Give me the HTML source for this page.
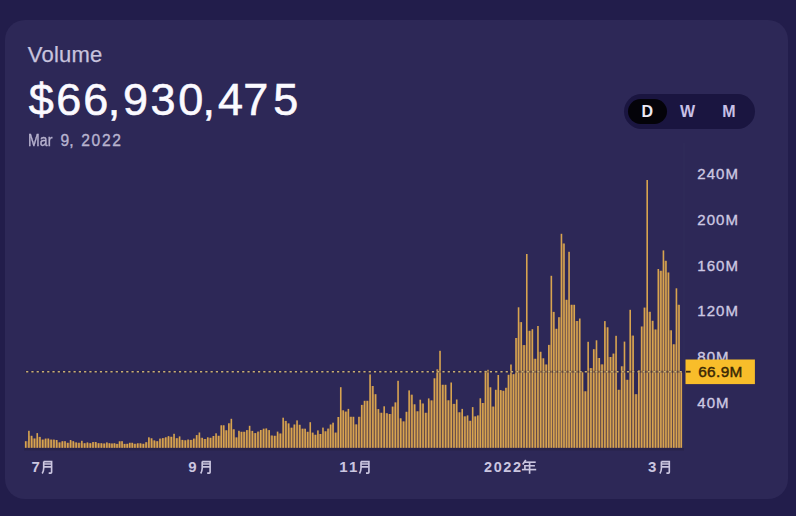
<!DOCTYPE html>
<html><head><meta charset="utf-8"><style>
*{margin:0;padding:0;box-sizing:border-box}
html,body{width:796px;height:516px;overflow:hidden;background:#221d4b;font-family:"Liberation Sans",sans-serif}
.card{position:absolute;left:5px;top:20px;width:783px;height:479px;border-radius:20px;background:#2d2857}
.t{position:absolute;white-space:nowrap;line-height:1}
.bg{top:76.6px;font-size:45px;color:#fbfaff;-webkit-text-stroke:0.6px #fbfaff}
#vol{left:27.8px;top:43.6px;font-size:22px;color:#c8c3dd;letter-spacing:0.2px;-webkit-text-stroke:0.25px #c8c3dd}
.dt{top:132.6px;font-size:15.6px;color:#b8b3cf;-webkit-text-stroke:0.35px #b8b3cf}
.pill{position:absolute;left:624px;top:93.5px;width:131px;height:35px;border-radius:18px;background:#1a1540}
.dp{position:absolute;left:628px;top:98.5px;width:39px;height:25px;border-radius:13px;background:#040309}
.tg{position:absolute;top:104.3px;font-size:16px;font-weight:bold;line-height:1}
.yl{position:absolute;left:697.2px;font-size:15px;color:#cdc8e2;line-height:1;letter-spacing:1.1px;-webkit-text-stroke:0.35px #cdc8e2}
svg{position:absolute;left:0;top:0}
</style></head><body>
<div class="card"></div>
<div class="t" id="vol">Volume</div>
<div class="t bg" style="left:28.8px">$</div>
<div class="t bg" style="left:56.2px">6</div>
<div class="t bg" style="left:83.3px">6</div>
<div class="t bg" style="left:107.7px">,</div>
<div class="t bg" style="left:122.9px">9</div>
<div class="t bg" style="left:150.5px">3</div>
<div class="t bg" style="left:178.3px">0</div>
<div class="t bg" style="left:202.5px">,</div>
<div class="t bg" style="left:217.9px">4</div>
<div class="t bg" style="left:243.3px">7</div>
<div class="t bg" style="left:273.2px">5</div>
<div class="t dt" style="left:28.2px;transform:scaleX(0.9);transform-origin:0 0;letter-spacing:0.2px">Mar</div>
<div class="t dt" style="left:60.5px">9,</div>
<div class="t dt" style="left:81.2px;letter-spacing:1.7px">2022</div>
<div class="pill"></div>
<div class="dp"></div>
<div class="tg" style="left:641.5px;color:#ece9f5">D</div>
<div class="tg" style="left:680px;color:#c8c0e6">W</div>
<div class="tg" style="left:722.3px;color:#c8c0e6">M</div>
<div class="yl" style="top:166.0px">240M</div>
<div class="yl" style="top:211.8px">200M</div>
<div class="yl" style="top:257.6px">160M</div>
<div class="yl" style="top:303.4px">120M</div>
<div class="yl" style="top:349.2px">80M</div>
<div class="yl" style="top:395.0px">40M</div>
<svg width="796" height="516" viewBox="0 0 796 516">
<line x1="684" y1="143" x2="684" y2="448" stroke="#312c5b" stroke-width="1"/>
<defs><filter id="bl" x="-1%" y="-1%" width="102%" height="102%"><feGaussianBlur stdDeviation="0.35 0.2"/></filter></defs>
<g fill="#644a4a">
<rect x="25.70" y="441.20" width="3.20" height="6.60"/>
<rect x="28.90" y="435.80" width="2.80" height="12.00"/>
<rect x="31.70" y="438.50" width="2.77" height="9.30"/>
<rect x="34.47" y="438.50" width="2.77" height="9.30"/>
<rect x="37.24" y="436.90" width="2.74" height="10.90"/>
<rect x="39.97" y="439.60" width="2.80" height="8.20"/>
<rect x="42.77" y="439.60" width="2.78" height="8.20"/>
<rect x="45.55" y="438.60" width="2.78" height="9.20"/>
<rect x="48.34" y="439.60" width="2.78" height="8.20"/>
<rect x="51.12" y="439.60" width="2.85" height="8.20"/>
<rect x="53.96" y="440.00" width="2.78" height="7.80"/>
<rect x="56.75" y="442.40" width="2.78" height="5.40"/>
<rect x="59.53" y="442.40" width="2.77" height="5.40"/>
<rect x="62.30" y="441.20" width="2.76" height="6.60"/>
<rect x="65.06" y="442.80" width="2.75" height="5.00"/>
<rect x="67.82" y="442.80" width="2.77" height="5.00"/>
<rect x="70.59" y="441.20" width="2.76" height="6.60"/>
<rect x="73.35" y="442.40" width="2.78" height="5.40"/>
<rect x="76.14" y="442.80" width="2.82" height="5.00"/>
<rect x="78.95" y="442.80" width="2.89" height="5.00"/>
<rect x="81.85" y="443.20" width="2.79" height="4.60"/>
<rect x="84.64" y="443.20" width="2.80" height="4.60"/>
<rect x="87.44" y="443.20" width="2.80" height="4.60"/>
<rect x="90.24" y="443.20" width="2.78" height="4.60"/>
<rect x="93.02" y="442.00" width="2.80" height="5.80"/>
<rect x="95.82" y="443.20" width="2.78" height="4.60"/>
<rect x="98.60" y="443.20" width="2.79" height="4.60"/>
<rect x="101.39" y="443.50" width="2.77" height="4.30"/>
<rect x="104.16" y="443.50" width="2.71" height="4.30"/>
<rect x="106.87" y="443.20" width="2.56" height="4.60"/>
<rect x="109.44" y="443.50" width="2.53" height="4.30"/>
<rect x="111.96" y="443.50" width="2.53" height="4.30"/>
<rect x="114.49" y="443.90" width="2.53" height="3.90"/>
<rect x="117.02" y="443.90" width="2.53" height="3.90"/>
<rect x="119.55" y="441.30" width="2.54" height="6.50"/>
<rect x="122.08" y="443.90" width="2.53" height="3.90"/>
<rect x="124.61" y="443.90" width="2.57" height="3.90"/>
<rect x="127.18" y="443.80" width="2.55" height="4.00"/>
<rect x="129.73" y="442.80" width="2.55" height="5.00"/>
<rect x="132.28" y="443.80" width="2.64" height="4.00"/>
<rect x="134.92" y="443.80" width="2.82" height="4.00"/>
<rect x="137.74" y="443.30" width="2.78" height="4.50"/>
<rect x="140.52" y="443.80" width="2.78" height="4.00"/>
<rect x="143.30" y="443.80" width="2.78" height="4.00"/>
<rect x="146.08" y="442.20" width="2.79" height="5.60"/>
<rect x="148.87" y="438.30" width="2.77" height="9.50"/>
<rect x="151.65" y="440.40" width="2.76" height="7.40"/>
<rect x="154.41" y="441.20" width="2.76" height="6.60"/>
<rect x="157.17" y="441.20" width="2.79" height="6.60"/>
<rect x="159.96" y="438.60" width="2.86" height="9.20"/>
<rect x="162.83" y="438.10" width="2.85" height="9.70"/>
<rect x="165.68" y="437.30" width="2.80" height="10.50"/>
<rect x="168.48" y="436.80" width="2.79" height="11.00"/>
<rect x="171.27" y="436.80" width="2.78" height="11.00"/>
<rect x="174.05" y="438.20" width="2.80" height="9.60"/>
<rect x="176.85" y="438.20" width="2.76" height="9.60"/>
<rect x="179.62" y="439.90" width="2.78" height="7.90"/>
<rect x="182.40" y="440.30" width="2.83" height="7.50"/>
<rect x="185.23" y="440.30" width="2.85" height="7.50"/>
<rect x="188.08" y="439.90" width="2.87" height="7.90"/>
<rect x="190.95" y="439.90" width="2.84" height="7.90"/>
<rect x="193.79" y="438.60" width="2.83" height="9.20"/>
<rect x="196.62" y="435.10" width="2.78" height="12.70"/>
<rect x="199.40" y="437.80" width="2.79" height="10.00"/>
<rect x="202.19" y="439.00" width="2.79" height="8.80"/>
<rect x="204.98" y="439.00" width="2.75" height="8.80"/>
<rect x="207.74" y="437.80" width="2.78" height="10.00"/>
<rect x="210.52" y="437.80" width="2.81" height="10.00"/>
<rect x="213.33" y="436.00" width="2.75" height="11.80"/>
<rect x="216.07" y="435.80" width="2.61" height="12.00"/>
<rect x="218.68" y="435.80" width="2.56" height="12.00"/>
<rect x="221.25" y="425.30" width="2.54" height="22.50"/>
<rect x="223.78" y="430.30" width="2.51" height="17.50"/>
<rect x="226.29" y="430.30" width="2.54" height="17.50"/>
<rect x="228.83" y="423.30" width="2.53" height="24.50"/>
<rect x="231.35" y="429.30" width="2.54" height="18.50"/>
<rect x="233.89" y="437.40" width="2.55" height="10.40"/>
<rect x="236.44" y="437.40" width="2.52" height="10.40"/>
<rect x="238.95" y="431.80" width="2.52" height="16.00"/>
<rect x="241.47" y="431.80" width="2.63" height="16.00"/>
<rect x="244.10" y="431.80" width="2.75" height="16.00"/>
<rect x="246.85" y="430.10" width="2.77" height="17.70"/>
<rect x="249.62" y="430.90" width="2.78" height="16.90"/>
<rect x="252.40" y="433.10" width="2.79" height="14.70"/>
<rect x="255.19" y="433.10" width="2.78" height="14.70"/>
<rect x="257.97" y="431.60" width="2.79" height="16.20"/>
<rect x="260.76" y="430.00" width="2.79" height="17.80"/>
<rect x="263.55" y="428.70" width="2.80" height="19.10"/>
<rect x="266.35" y="430.10" width="2.82" height="17.70"/>
<rect x="269.17" y="435.50" width="2.80" height="12.30"/>
<rect x="271.97" y="435.80" width="2.83" height="12.00"/>
<rect x="274.80" y="435.80" width="2.79" height="12.00"/>
<rect x="277.59" y="433.50" width="2.78" height="14.30"/>
<rect x="280.37" y="433.50" width="2.77" height="14.30"/>
<rect x="283.15" y="420.90" width="2.77" height="26.90"/>
<rect x="285.92" y="423.40" width="2.80" height="24.40"/>
<rect x="288.72" y="427.70" width="2.80" height="20.10"/>
<rect x="291.52" y="427.70" width="2.76" height="20.10"/>
<rect x="294.28" y="424.50" width="2.78" height="23.30"/>
<rect x="297.06" y="424.80" width="2.79" height="23.00"/>
<rect x="299.85" y="428.70" width="2.73" height="19.10"/>
<rect x="302.59" y="428.70" width="2.57" height="19.10"/>
<rect x="305.16" y="431.80" width="2.55" height="16.00"/>
<rect x="307.70" y="431.80" width="2.55" height="16.00"/>
<rect x="310.25" y="432.60" width="2.56" height="15.20"/>
<rect x="312.81" y="434.76" width="2.56" height="13.04"/>
<rect x="315.38" y="434.76" width="2.52" height="13.04"/>
<rect x="317.90" y="434.00" width="2.52" height="13.80"/>
<rect x="320.41" y="434.00" width="2.55" height="13.80"/>
<rect x="322.97" y="431.30" width="2.54" height="16.50"/>
<rect x="325.50" y="431.30" width="2.51" height="16.50"/>
<rect x="328.01" y="428.60" width="2.52" height="19.20"/>
<rect x="330.54" y="424.50" width="2.54" height="23.30"/>
<rect x="333.07" y="432.60" width="2.56" height="15.20"/>
<rect x="335.64" y="432.60" width="2.57" height="15.20"/>
<rect x="338.21" y="417.00" width="2.55" height="30.80"/>
<rect x="340.76" y="410.30" width="2.52" height="37.50"/>
<rect x="343.28" y="411.60" width="2.55" height="36.20"/>
<rect x="345.84" y="411.60" width="2.55" height="36.20"/>
<rect x="348.38" y="416.80" width="2.55" height="31.00"/>
<rect x="350.94" y="416.80" width="2.56" height="31.00"/>
<rect x="353.50" y="424.40" width="2.69" height="23.40"/>
<rect x="356.19" y="424.40" width="2.75" height="23.40"/>
<rect x="358.94" y="416.80" width="2.78" height="31.00"/>
<rect x="361.72" y="404.90" width="2.79" height="42.90"/>
<rect x="364.51" y="400.80" width="2.76" height="47.00"/>
<rect x="367.27" y="400.80" width="2.80" height="47.00"/>
<rect x="370.07" y="386.00" width="2.80" height="61.80"/>
<rect x="372.87" y="394.20" width="2.78" height="53.60"/>
<rect x="375.65" y="409.10" width="2.80" height="38.70"/>
<rect x="378.45" y="412.80" width="2.85" height="35.00"/>
<rect x="381.30" y="412.80" width="2.88" height="35.00"/>
<rect x="384.18" y="413.20" width="2.78" height="34.60"/>
<rect x="386.96" y="414.00" width="2.78" height="33.80"/>
<rect x="389.75" y="414.00" width="2.78" height="33.80"/>
<rect x="392.53" y="406.60" width="2.77" height="41.20"/>
<rect x="395.30" y="402.40" width="2.76" height="45.40"/>
<rect x="398.06" y="418.30" width="2.74" height="29.50"/>
<rect x="400.80" y="421.40" width="2.76" height="26.40"/>
<rect x="403.56" y="421.40" width="2.78" height="26.40"/>
<rect x="406.35" y="411.80" width="2.78" height="36.00"/>
<rect x="409.13" y="394.70" width="2.79" height="53.10"/>
<rect x="411.92" y="404.30" width="2.78" height="43.50"/>
<rect x="414.70" y="411.30" width="2.79" height="36.50"/>
<rect x="417.49" y="411.30" width="2.77" height="36.50"/>
<rect x="420.26" y="403.50" width="2.78" height="44.30"/>
<rect x="423.05" y="412.80" width="2.82" height="35.00"/>
<rect x="425.86" y="412.80" width="2.85" height="35.00"/>
<rect x="428.71" y="400.40" width="2.82" height="47.40"/>
<rect x="431.53" y="400.40" width="2.83" height="47.40"/>
<rect x="434.35" y="378.30" width="2.79" height="69.50"/>
<rect x="437.15" y="369.40" width="2.88" height="78.40"/>
<rect x="440.03" y="384.80" width="2.82" height="63.00"/>
<rect x="442.85" y="384.80" width="2.79" height="63.00"/>
<rect x="445.64" y="400.30" width="2.78" height="47.50"/>
<rect x="448.42" y="400.30" width="2.78" height="47.50"/>
<rect x="451.20" y="403.90" width="2.79" height="43.90"/>
<rect x="453.99" y="403.90" width="2.74" height="43.90"/>
<rect x="456.73" y="412.30" width="2.72" height="35.50"/>
<rect x="459.45" y="412.30" width="2.76" height="35.50"/>
<rect x="462.21" y="416.40" width="2.70" height="31.40"/>
<rect x="464.91" y="416.40" width="2.66" height="31.40"/>
<rect x="467.57" y="420.80" width="2.56" height="27.00"/>
<rect x="470.14" y="420.80" width="2.55" height="27.00"/>
<rect x="472.68" y="416.40" width="2.54" height="31.40"/>
<rect x="475.22" y="416.40" width="2.55" height="31.40"/>
<rect x="477.76" y="415.44" width="2.55" height="32.36"/>
<rect x="480.32" y="403.00" width="2.54" height="44.80"/>
<rect x="482.85" y="403.00" width="2.56" height="44.80"/>
<rect x="485.42" y="370.80" width="2.58" height="77.00"/>
<rect x="488.00" y="387.30" width="2.55" height="60.50"/>
<rect x="490.55" y="406.60" width="2.59" height="41.20"/>
<rect x="493.14" y="406.60" width="2.59" height="41.20"/>
<rect x="495.73" y="389.80" width="2.55" height="58.00"/>
<rect x="498.27" y="390.10" width="2.55" height="57.70"/>
<rect x="500.82" y="390.80" width="2.55" height="57.00"/>
<rect x="503.36" y="390.80" width="2.55" height="57.00"/>
<rect x="505.91" y="387.80" width="2.52" height="60.00"/>
<rect x="508.43" y="374.80" width="2.55" height="73.00"/>
<rect x="510.98" y="374.20" width="2.53" height="73.60"/>
<rect x="513.51" y="374.20" width="2.50" height="73.60"/>
<rect x="516.01" y="338.00" width="2.56" height="109.80"/>
<rect x="518.57" y="322.10" width="2.69" height="125.70"/>
<rect x="521.26" y="345.10" width="2.76" height="102.70"/>
<rect x="524.03" y="345.10" width="2.75" height="102.70"/>
<rect x="526.78" y="330.80" width="2.81" height="117.00"/>
<rect x="529.59" y="330.80" width="2.79" height="117.00"/>
<rect x="532.38" y="358.80" width="2.77" height="89.00"/>
<rect x="535.15" y="358.80" width="2.79" height="89.00"/>
<rect x="537.95" y="351.80" width="2.77" height="96.00"/>
<rect x="540.72" y="358.30" width="2.74" height="89.50"/>
<rect x="543.45" y="364.50" width="2.73" height="83.30"/>
<rect x="546.18" y="364.50" width="2.64" height="83.30"/>
<rect x="548.82" y="344.90" width="2.52" height="102.90"/>
<rect x="551.34" y="311.90" width="2.52" height="135.90"/>
<rect x="553.85" y="328.80" width="2.55" height="119.00"/>
<rect x="556.41" y="328.80" width="2.51" height="119.00"/>
<rect x="558.92" y="317.20" width="2.53" height="130.60"/>
<rect x="561.45" y="243.50" width="2.55" height="204.30"/>
<rect x="563.99" y="299.80" width="2.55" height="148.00"/>
<rect x="566.54" y="299.80" width="2.54" height="148.00"/>
<rect x="569.07" y="304.80" width="2.59" height="143.00"/>
<rect x="571.66" y="304.80" width="2.60" height="143.00"/>
<rect x="574.26" y="321.00" width="2.75" height="126.80"/>
<rect x="577.01" y="321.00" width="2.76" height="126.80"/>
<rect x="579.77" y="371.80" width="2.75" height="76.00"/>
<rect x="582.53" y="391.30" width="2.81" height="56.50"/>
<rect x="585.34" y="391.30" width="2.81" height="56.50"/>
<rect x="588.15" y="368.10" width="2.77" height="79.70"/>
<rect x="590.92" y="368.10" width="2.80" height="79.70"/>
<rect x="593.72" y="349.20" width="2.78" height="98.60"/>
<rect x="596.50" y="358.00" width="2.77" height="89.80"/>
<rect x="599.27" y="364.40" width="2.77" height="83.40"/>
<rect x="602.05" y="364.40" width="2.83" height="83.40"/>
<rect x="604.87" y="327.30" width="2.82" height="120.50"/>
<rect x="607.69" y="357.00" width="2.81" height="90.80"/>
<rect x="610.50" y="357.00" width="2.82" height="90.80"/>
<rect x="613.32" y="353.60" width="2.76" height="94.20"/>
<rect x="616.08" y="389.80" width="2.75" height="58.00"/>
<rect x="618.84" y="389.80" width="2.84" height="58.00"/>
<rect x="621.67" y="366.30" width="2.82" height="81.50"/>
<rect x="624.49" y="379.80" width="2.80" height="68.00"/>
<rect x="627.29" y="379.80" width="2.91" height="68.00"/>
<rect x="630.20" y="335.60" width="2.92" height="112.20"/>
<rect x="633.12" y="394.20" width="2.92" height="53.60"/>
<rect x="636.04" y="394.20" width="2.80" height="53.60"/>
<rect x="638.84" y="370.30" width="2.79" height="77.50"/>
<rect x="641.63" y="326.50" width="2.78" height="121.30"/>
<rect x="644.41" y="307.60" width="2.79" height="140.20"/>
<rect x="647.20" y="311.80" width="2.81" height="136.00"/>
<rect x="650.01" y="320.80" width="2.76" height="127.00"/>
<rect x="652.77" y="329.50" width="2.73" height="118.30"/>
<rect x="655.50" y="329.50" width="2.80" height="118.30"/>
<rect x="658.30" y="270.80" width="2.59" height="177.00"/>
<rect x="660.89" y="270.80" width="2.54" height="177.00"/>
<rect x="663.43" y="260.80" width="2.52" height="187.00"/>
<rect x="665.95" y="272.50" width="2.57" height="175.30"/>
<rect x="668.52" y="330.30" width="2.65" height="117.50"/>
<rect x="671.16" y="344.30" width="2.63" height="103.50"/>
<rect x="673.80" y="344.30" width="2.63" height="103.50"/>
<rect x="676.43" y="304.80" width="2.61" height="143.00"/>
<rect x="679.03" y="371.50" width="2.27" height="76.30"/>
</g>
<g fill="#d8a450" filter="url(#bl)">
<rect x="24.90" y="441.20" width="1.6" height="6.60"/>
<rect x="28.10" y="430.80" width="1.6" height="17.00"/>
<rect x="30.90" y="435.80" width="1.6" height="12.00"/>
<rect x="33.67" y="438.50" width="1.6" height="9.30"/>
<rect x="36.44" y="433.10" width="1.6" height="14.70"/>
<rect x="39.17" y="436.90" width="1.6" height="10.90"/>
<rect x="41.97" y="439.60" width="1.6" height="8.20"/>
<rect x="44.75" y="438.60" width="1.6" height="9.20"/>
<rect x="47.54" y="438.50" width="1.6" height="9.30"/>
<rect x="50.32" y="439.60" width="1.6" height="8.20"/>
<rect x="53.16" y="439.60" width="1.6" height="8.20"/>
<rect x="55.95" y="440.00" width="1.6" height="7.80"/>
<rect x="58.73" y="442.40" width="1.6" height="5.40"/>
<rect x="61.50" y="441.20" width="1.6" height="6.60"/>
<rect x="64.26" y="441.20" width="1.6" height="6.60"/>
<rect x="67.02" y="442.80" width="1.6" height="5.00"/>
<rect x="69.79" y="440.00" width="1.6" height="7.80"/>
<rect x="72.55" y="441.20" width="1.6" height="6.60"/>
<rect x="75.34" y="442.40" width="1.6" height="5.40"/>
<rect x="78.15" y="442.80" width="1.6" height="5.00"/>
<rect x="81.05" y="440.80" width="1.6" height="7.00"/>
<rect x="83.84" y="443.20" width="1.6" height="4.60"/>
<rect x="86.64" y="442.40" width="1.6" height="5.40"/>
<rect x="89.44" y="443.20" width="1.6" height="4.60"/>
<rect x="92.22" y="442.00" width="1.6" height="5.80"/>
<rect x="95.02" y="442.00" width="1.6" height="5.80"/>
<rect x="97.80" y="443.20" width="1.6" height="4.60"/>
<rect x="100.59" y="443.20" width="1.6" height="4.60"/>
<rect x="103.36" y="443.50" width="1.6" height="4.30"/>
<rect x="106.07" y="442.40" width="1.6" height="5.40"/>
<rect x="108.64" y="443.20" width="1.6" height="4.60"/>
<rect x="111.16" y="443.50" width="1.6" height="4.30"/>
<rect x="113.69" y="443.20" width="1.6" height="4.60"/>
<rect x="116.22" y="443.90" width="1.6" height="3.90"/>
<rect x="118.75" y="441.30" width="1.6" height="6.50"/>
<rect x="121.28" y="441.20" width="1.6" height="6.60"/>
<rect x="123.81" y="443.90" width="1.6" height="3.90"/>
<rect x="126.38" y="443.80" width="1.6" height="4.00"/>
<rect x="128.93" y="442.80" width="1.6" height="5.00"/>
<rect x="131.48" y="442.80" width="1.6" height="5.00"/>
<rect x="134.12" y="443.80" width="1.6" height="4.00"/>
<rect x="136.94" y="443.30" width="1.6" height="4.50"/>
<rect x="139.72" y="443.30" width="1.6" height="4.50"/>
<rect x="142.50" y="443.80" width="1.6" height="4.00"/>
<rect x="145.28" y="442.20" width="1.6" height="5.60"/>
<rect x="148.07" y="437.30" width="1.6" height="10.50"/>
<rect x="150.85" y="438.30" width="1.6" height="9.50"/>
<rect x="153.61" y="440.40" width="1.6" height="7.40"/>
<rect x="156.37" y="441.20" width="1.6" height="6.60"/>
<rect x="159.16" y="438.60" width="1.6" height="9.20"/>
<rect x="162.03" y="438.10" width="1.6" height="9.70"/>
<rect x="164.88" y="437.30" width="1.6" height="10.50"/>
<rect x="167.68" y="436.10" width="1.6" height="11.70"/>
<rect x="170.47" y="436.80" width="1.6" height="11.00"/>
<rect x="173.25" y="433.80" width="1.6" height="14.00"/>
<rect x="176.05" y="438.20" width="1.6" height="9.60"/>
<rect x="178.82" y="436.40" width="1.6" height="11.40"/>
<rect x="181.60" y="439.90" width="1.6" height="7.90"/>
<rect x="184.43" y="440.30" width="1.6" height="7.50"/>
<rect x="187.28" y="439.50" width="1.6" height="8.30"/>
<rect x="190.15" y="439.90" width="1.6" height="7.90"/>
<rect x="192.99" y="438.60" width="1.6" height="9.20"/>
<rect x="195.82" y="435.10" width="1.6" height="12.70"/>
<rect x="198.60" y="432.50" width="1.6" height="15.30"/>
<rect x="201.39" y="437.80" width="1.6" height="10.00"/>
<rect x="204.18" y="439.00" width="1.6" height="8.80"/>
<rect x="206.94" y="437.30" width="1.6" height="10.50"/>
<rect x="209.72" y="437.80" width="1.6" height="10.00"/>
<rect x="212.53" y="436.00" width="1.6" height="11.80"/>
<rect x="215.27" y="433.30" width="1.6" height="14.50"/>
<rect x="217.88" y="435.80" width="1.6" height="12.00"/>
<rect x="220.45" y="425.30" width="1.6" height="22.50"/>
<rect x="222.98" y="425.30" width="1.6" height="22.50"/>
<rect x="225.49" y="430.30" width="1.6" height="17.50"/>
<rect x="228.03" y="423.30" width="1.6" height="24.50"/>
<rect x="230.55" y="418.80" width="1.6" height="29.00"/>
<rect x="233.09" y="429.30" width="1.6" height="18.50"/>
<rect x="235.64" y="437.40" width="1.6" height="10.40"/>
<rect x="238.15" y="430.80" width="1.6" height="17.00"/>
<rect x="240.67" y="431.80" width="1.6" height="16.00"/>
<rect x="243.30" y="431.80" width="1.6" height="16.00"/>
<rect x="246.05" y="430.10" width="1.6" height="17.70"/>
<rect x="248.82" y="425.80" width="1.6" height="22.00"/>
<rect x="251.60" y="430.90" width="1.6" height="16.90"/>
<rect x="254.39" y="433.10" width="1.6" height="14.70"/>
<rect x="257.17" y="431.60" width="1.6" height="16.20"/>
<rect x="259.96" y="430.00" width="1.6" height="17.80"/>
<rect x="262.75" y="428.70" width="1.6" height="19.10"/>
<rect x="265.55" y="428.40" width="1.6" height="19.40"/>
<rect x="268.37" y="430.10" width="1.6" height="17.70"/>
<rect x="271.17" y="435.50" width="1.6" height="12.30"/>
<rect x="274.00" y="435.80" width="1.6" height="12.00"/>
<rect x="276.79" y="431.60" width="1.6" height="16.20"/>
<rect x="279.57" y="433.50" width="1.6" height="14.30"/>
<rect x="282.35" y="417.70" width="1.6" height="30.10"/>
<rect x="285.12" y="420.90" width="1.6" height="26.90"/>
<rect x="287.92" y="423.40" width="1.6" height="24.40"/>
<rect x="290.72" y="427.70" width="1.6" height="20.10"/>
<rect x="293.48" y="424.50" width="1.6" height="23.30"/>
<rect x="296.26" y="420.40" width="1.6" height="27.40"/>
<rect x="299.05" y="424.80" width="1.6" height="23.00"/>
<rect x="301.79" y="428.70" width="1.6" height="19.10"/>
<rect x="304.36" y="428.70" width="1.6" height="19.10"/>
<rect x="306.90" y="431.80" width="1.6" height="16.00"/>
<rect x="309.45" y="422.20" width="1.6" height="25.60"/>
<rect x="312.01" y="432.60" width="1.6" height="15.20"/>
<rect x="314.58" y="434.76" width="1.6" height="13.04"/>
<rect x="317.10" y="430.40" width="1.6" height="17.40"/>
<rect x="319.61" y="434.00" width="1.6" height="13.80"/>
<rect x="322.17" y="427.60" width="1.6" height="20.20"/>
<rect x="324.70" y="431.30" width="1.6" height="16.50"/>
<rect x="327.21" y="428.60" width="1.6" height="19.20"/>
<rect x="329.74" y="424.50" width="1.6" height="23.30"/>
<rect x="332.27" y="422.70" width="1.6" height="25.10"/>
<rect x="334.84" y="432.60" width="1.6" height="15.20"/>
<rect x="337.41" y="417.00" width="1.6" height="30.80"/>
<rect x="339.96" y="387.20" width="1.6" height="60.60"/>
<rect x="342.48" y="410.30" width="1.6" height="37.50"/>
<rect x="345.04" y="411.60" width="1.6" height="36.20"/>
<rect x="347.58" y="408.90" width="1.6" height="38.90"/>
<rect x="350.14" y="416.80" width="1.6" height="31.00"/>
<rect x="352.70" y="416.80" width="1.6" height="31.00"/>
<rect x="355.39" y="424.40" width="1.6" height="23.40"/>
<rect x="358.14" y="416.80" width="1.6" height="31.00"/>
<rect x="360.92" y="404.90" width="1.6" height="42.90"/>
<rect x="363.71" y="400.80" width="1.6" height="47.00"/>
<rect x="366.47" y="400.80" width="1.6" height="47.00"/>
<rect x="369.27" y="374.40" width="1.6" height="73.40"/>
<rect x="372.07" y="386.00" width="1.6" height="61.80"/>
<rect x="374.85" y="394.20" width="1.6" height="53.60"/>
<rect x="377.65" y="409.10" width="1.6" height="38.70"/>
<rect x="380.50" y="412.80" width="1.6" height="35.00"/>
<rect x="383.38" y="406.30" width="1.6" height="41.50"/>
<rect x="386.16" y="413.20" width="1.6" height="34.60"/>
<rect x="388.95" y="414.00" width="1.6" height="33.80"/>
<rect x="391.73" y="406.60" width="1.6" height="41.20"/>
<rect x="394.50" y="402.40" width="1.6" height="45.40"/>
<rect x="397.26" y="380.80" width="1.6" height="67.00"/>
<rect x="400.00" y="418.30" width="1.6" height="29.50"/>
<rect x="402.76" y="421.40" width="1.6" height="26.40"/>
<rect x="405.55" y="411.80" width="1.6" height="36.00"/>
<rect x="408.33" y="390.40" width="1.6" height="57.40"/>
<rect x="411.12" y="394.70" width="1.6" height="53.10"/>
<rect x="413.90" y="404.30" width="1.6" height="43.50"/>
<rect x="416.69" y="411.30" width="1.6" height="36.50"/>
<rect x="419.46" y="399.70" width="1.6" height="48.10"/>
<rect x="422.25" y="403.50" width="1.6" height="44.30"/>
<rect x="425.06" y="412.80" width="1.6" height="35.00"/>
<rect x="427.91" y="398.40" width="1.6" height="49.40"/>
<rect x="430.73" y="400.40" width="1.6" height="47.40"/>
<rect x="433.55" y="378.30" width="1.6" height="69.50"/>
<rect x="436.35" y="369.40" width="1.6" height="78.40"/>
<rect x="439.23" y="350.80" width="1.6" height="97.00"/>
<rect x="442.05" y="384.80" width="1.6" height="63.00"/>
<rect x="444.84" y="384.80" width="1.6" height="63.00"/>
<rect x="447.62" y="400.30" width="1.6" height="47.50"/>
<rect x="450.40" y="382.50" width="1.6" height="65.30"/>
<rect x="453.19" y="403.90" width="1.6" height="43.90"/>
<rect x="455.93" y="399.50" width="1.6" height="48.30"/>
<rect x="458.65" y="412.30" width="1.6" height="35.50"/>
<rect x="461.41" y="408.90" width="1.6" height="38.90"/>
<rect x="464.11" y="416.40" width="1.6" height="31.40"/>
<rect x="466.77" y="415.40" width="1.6" height="32.40"/>
<rect x="469.34" y="420.80" width="1.6" height="27.00"/>
<rect x="471.88" y="407.10" width="1.6" height="40.70"/>
<rect x="474.42" y="416.40" width="1.6" height="31.40"/>
<rect x="476.96" y="415.44" width="1.6" height="32.36"/>
<rect x="479.52" y="398.30" width="1.6" height="49.50"/>
<rect x="482.05" y="403.00" width="1.6" height="44.80"/>
<rect x="484.62" y="370.80" width="1.6" height="77.00"/>
<rect x="487.20" y="369.80" width="1.6" height="78.00"/>
<rect x="489.75" y="387.30" width="1.6" height="60.50"/>
<rect x="492.34" y="406.60" width="1.6" height="41.20"/>
<rect x="494.93" y="389.80" width="1.6" height="58.00"/>
<rect x="497.47" y="375.00" width="1.6" height="72.80"/>
<rect x="500.02" y="390.10" width="1.6" height="57.70"/>
<rect x="502.56" y="390.80" width="1.6" height="57.00"/>
<rect x="505.11" y="387.80" width="1.6" height="60.00"/>
<rect x="507.63" y="374.80" width="1.6" height="73.00"/>
<rect x="510.18" y="364.50" width="1.6" height="83.30"/>
<rect x="512.71" y="374.20" width="1.6" height="73.60"/>
<rect x="515.21" y="338.00" width="1.6" height="109.80"/>
<rect x="517.77" y="307.30" width="1.6" height="140.50"/>
<rect x="520.46" y="322.10" width="1.6" height="125.70"/>
<rect x="523.23" y="345.10" width="1.6" height="102.70"/>
<rect x="525.98" y="254.00" width="1.6" height="193.80"/>
<rect x="528.79" y="330.80" width="1.6" height="117.00"/>
<rect x="531.58" y="329.20" width="1.6" height="118.60"/>
<rect x="534.35" y="358.80" width="1.6" height="89.00"/>
<rect x="537.15" y="326.00" width="1.6" height="121.80"/>
<rect x="539.92" y="351.80" width="1.6" height="96.00"/>
<rect x="542.65" y="358.30" width="1.6" height="89.50"/>
<rect x="545.38" y="364.50" width="1.6" height="83.30"/>
<rect x="548.02" y="344.90" width="1.6" height="102.90"/>
<rect x="550.54" y="275.80" width="1.6" height="172.00"/>
<rect x="553.05" y="311.90" width="1.6" height="135.90"/>
<rect x="555.61" y="328.80" width="1.6" height="119.00"/>
<rect x="558.12" y="317.20" width="1.6" height="130.60"/>
<rect x="560.65" y="233.80" width="1.6" height="214.00"/>
<rect x="563.19" y="243.50" width="1.6" height="204.30"/>
<rect x="565.74" y="299.80" width="1.6" height="148.00"/>
<rect x="568.27" y="251.80" width="1.6" height="196.00"/>
<rect x="570.86" y="304.80" width="1.6" height="143.00"/>
<rect x="573.46" y="304.80" width="1.6" height="143.00"/>
<rect x="576.21" y="321.00" width="1.6" height="126.80"/>
<rect x="578.97" y="318.50" width="1.6" height="129.30"/>
<rect x="581.73" y="371.80" width="1.6" height="76.00"/>
<rect x="584.54" y="391.30" width="1.6" height="56.50"/>
<rect x="587.35" y="341.80" width="1.6" height="106.00"/>
<rect x="590.12" y="368.10" width="1.6" height="79.70"/>
<rect x="592.92" y="349.20" width="1.6" height="98.60"/>
<rect x="595.70" y="340.30" width="1.6" height="107.50"/>
<rect x="598.47" y="358.00" width="1.6" height="89.80"/>
<rect x="601.25" y="364.40" width="1.6" height="83.40"/>
<rect x="604.07" y="321.10" width="1.6" height="126.70"/>
<rect x="606.89" y="327.30" width="1.6" height="120.50"/>
<rect x="609.70" y="357.00" width="1.6" height="90.80"/>
<rect x="612.52" y="353.60" width="1.6" height="94.20"/>
<rect x="615.28" y="335.80" width="1.6" height="112.00"/>
<rect x="618.04" y="389.80" width="1.6" height="58.00"/>
<rect x="620.87" y="366.30" width="1.6" height="81.50"/>
<rect x="623.69" y="341.60" width="1.6" height="106.20"/>
<rect x="626.49" y="379.80" width="1.6" height="68.00"/>
<rect x="629.40" y="309.80" width="1.6" height="138.00"/>
<rect x="632.32" y="335.60" width="1.6" height="112.20"/>
<rect x="635.24" y="394.20" width="1.6" height="53.60"/>
<rect x="638.04" y="370.30" width="1.6" height="77.50"/>
<rect x="640.83" y="326.50" width="1.6" height="121.30"/>
<rect x="643.61" y="307.60" width="1.6" height="140.20"/>
<rect x="646.40" y="180.00" width="1.6" height="267.80"/>
<rect x="649.21" y="311.80" width="1.6" height="136.00"/>
<rect x="651.97" y="320.80" width="1.6" height="127.00"/>
<rect x="654.70" y="329.50" width="1.6" height="118.30"/>
<rect x="657.50" y="269.00" width="1.6" height="178.80"/>
<rect x="660.09" y="270.80" width="1.6" height="177.00"/>
<rect x="662.63" y="250.40" width="1.6" height="197.40"/>
<rect x="665.15" y="260.80" width="1.6" height="187.00"/>
<rect x="667.72" y="272.50" width="1.6" height="175.30"/>
<rect x="670.36" y="330.30" width="1.6" height="117.50"/>
<rect x="673.00" y="344.30" width="1.6" height="103.50"/>
<rect x="675.63" y="288.30" width="1.6" height="159.50"/>
<rect x="678.23" y="304.80" width="1.6" height="143.00"/>
<rect x="680.50" y="371.50" width="1.6" height="76.30"/>
</g>
<rect x="24" y="448" width="660" height="2.5" fill="#28234b"/>
<line x1="25" y1="371.8" x2="683" y2="371.8" stroke="#140f30" stroke-opacity="0.35" stroke-width="2"/>
<line x1="25" y1="371.8" x2="683" y2="371.8" stroke="#c9ae72" stroke-width="1.5" stroke-dasharray="2.2 3.07" stroke-dashoffset="-1.1"/>
<rect x="685.5" y="359.5" width="69.4" height="24.6" fill="#f8bd2a"/>
<rect x="686" y="370.8" width="4.6" height="1.8" fill="#3a2a10"/>
<text x="698.2" y="376.6" font-family="Liberation Sans" font-size="15.4" fill="#3a2805" stroke="#3a2805" stroke-width="0.45" letter-spacing="0.35">66.9M</text>
<g font-family="Liberation Sans" font-size="15" font-weight="bold" fill="#cbc6e0">
<text x="31.4" y="472">7</text>
<text x="188.3" y="472">9</text>
<text x="339.2" y="472" letter-spacing="2.2">11</text>
<text x="484" y="472" letter-spacing="1.6" font-size="14.5">2022</text>
<text x="648" y="472">3</text>
</g>
<g transform="translate(42.1,460.7)" fill="none" stroke="#cbc6e0" stroke-width="1.65">
<path d="M1.6 0.9H9.5V11.6Q9.5 12.4 8.6 12.4H6.6"/>
<path d="M1.6 0.9V7.5Q1.5 10.8 0.1 12.8"/>
<path d="M1.6 3.3H9.5M1.6 6.1H9.5"/>
</g>
<g transform="translate(200.6,460.7)" fill="none" stroke="#cbc6e0" stroke-width="1.65">
<path d="M1.6 0.9H9.5V11.6Q9.5 12.4 8.6 12.4H6.6"/>
<path d="M1.6 0.9V7.5Q1.5 10.8 0.1 12.8"/>
<path d="M1.6 3.3H9.5M1.6 6.1H9.5"/>
</g>
<g transform="translate(359.4,460.7)" fill="none" stroke="#cbc6e0" stroke-width="1.65">
<path d="M1.6 0.9H9.5V11.6Q9.5 12.4 8.6 12.4H6.6"/>
<path d="M1.6 0.9V7.5Q1.5 10.8 0.1 12.8"/>
<path d="M1.6 3.3H9.5M1.6 6.1H9.5"/>
</g>
<g transform="translate(521.9,459.7)" fill="none" stroke="#cbc6e0" stroke-width="1.65">
<path d="M3.9 0.3L0.8 4.8"/>
<path d="M2.8 2.5H13.8"/>
<path d="M3 9.9V6H13"/>
<path d="M0 9.9H14.3"/>
<path d="M7.7 2.5V14.1"/>
</g>
<g transform="translate(659.8,460.7)" fill="none" stroke="#cbc6e0" stroke-width="1.65">
<path d="M1.6 0.9H9.5V11.6Q9.5 12.4 8.6 12.4H6.6"/>
<path d="M1.6 0.9V7.5Q1.5 10.8 0.1 12.8"/>
<path d="M1.6 3.3H9.5M1.6 6.1H9.5"/>
</g>
</svg>
</body></html>
